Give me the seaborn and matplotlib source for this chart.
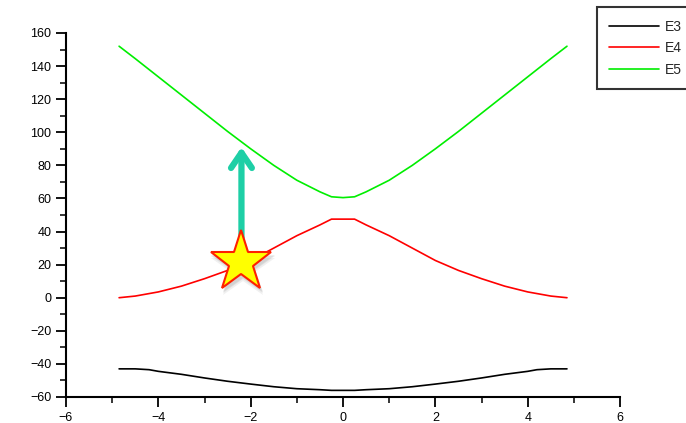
import numpy as np
import pandas as pd
import matplotlib
matplotlib.use("Agg")
import matplotlib.pyplot as plt
import seaborn as sns
from matplotlib.ticker import MultipleLocator

# values
x_vals = [-4.85, -4.5, -4.2, -4.0, -3.5, -3.0, -2.5, -2.0, -1.5, -1.0, -0.5, -0.25, 0.0,
          0.25, 0.5, 1.0, 1.5, 2.0, 2.5, 3.0, 3.5, 4.0, 4.2, 4.5, 4.85]
e3_vals = [-43.0, -43.0, -43.5, -44.5, -46.3, -48.5, -50.5, -52.2, -53.8, -55.0, -55.6, -56.0, -56.0,
           -56.0, -55.6, -55.0, -53.8, -52.2, -50.5, -48.5, -46.3, -44.5, -43.5, -43.0, -43.0]
e4_vals = [0.0, 1.0, 2.5, 3.5, 7.0, 11.5, 16.5, 22.5, 30.0, 37.5, 44.0, 47.5, 47.5,
           47.5, 44.0, 37.5, 30.0, 22.5, 16.5, 11.5, 7.0, 3.5, 2.5, 1.0, 0.0]
e5_vals = [152.0, 144.5, 137.9, 133.5, 122.5, 111.5, 100.5, 90.0, 80.0, 71.0, 64.0, 61.0, 60.5,
           61.0, 64.0, 71.0, 80.0, 90.0, 100.5, 111.5, 122.5, 133.5, 137.9, 144.5, 152.0]

series_names = ["E3", "E4", "E5"]
series_colors = ["black", "#ff0000", "#00ee00"]

# star marker and arrow (transition)
star_x, star_y = -2.2, 21.5
arrow_top = 91.0
arrow_bottom = 36.0

df = pd.DataFrame({"x": x_vals * 3,
                   "y": e3_vals + e4_vals + e5_vals,
                   "series": ["E3"] * len(x_vals) + ["E4"] * len(x_vals) + ["E5"] * len(x_vals)})

sns.set_style("ticks")
plt.rcParams['font.family'] = ['Liberation Sans', 'DejaVu Sans']

fig = plt.figure(figsize=(6.86, 4.23), dpi=100)
ax = fig.add_axes([0.0962, 0.0615, 0.8077, 0.8605])

sns.lineplot(data=df, x="x", y="y", hue="series", hue_order=series_names,
             palette=series_colors, linewidth=1.2, ax=ax, sort=False, estimator=None)

ax.annotate("", xy=(star_x, arrow_top), xytext=(star_x, arrow_bottom),
            arrowprops=dict(arrowstyle="->,head_width=0.75,head_length=1.1",
                            mutation_scale=10, color="#1ecfa6", lw=4.5,
                            shrinkA=0, shrinkB=0, capstyle="round", joinstyle="round"))
# soft shadow under the star
for dy, a in [(-3.5, 0.12), (-2.5, 0.15), (-1.5, 0.15)]:
    ax.plot([star_x + 0.03], [star_y + dy], marker="*", markersize=48, color="#888888",
            alpha=a, markeredgewidth=0, zorder=4)
ax.plot([star_x], [star_y], marker="*", markersize=46, markerfacecolor="#ffff00",
        markeredgecolor="#ff2000", markeredgewidth=1.5, zorder=5)

ax.set_xlim(-6, 6)
ax.set_ylim(-60, 160)
ax.xaxis.set_major_locator(MultipleLocator(2))
ax.xaxis.set_minor_locator(MultipleLocator(1))
ax.yaxis.set_major_locator(MultipleLocator(20))
ax.yaxis.set_minor_locator(MultipleLocator(10))
ax.tick_params(which="major", length=7, width=1.3, labelsize=9, colors="black", direction="out")
ax.tick_params(which="minor", length=4, width=1.3, direction="out")
ax.set_xlabel("")
ax.set_ylabel("")
sns.despine(ax=ax)
for s in ["left", "bottom"]:
    ax.spines[s].set_linewidth(1.5)
    ax.spines[s].set_color("black")

leg = ax.legend(loc="upper left", bbox_to_anchor=(0.870, 0.983), bbox_transform=fig.transFigure,
                frameon=True, fancybox=False, fontsize=10, handlelength=3.6,
                handletextpad=0.4, borderpad=0.9, labelspacing=0.55, borderaxespad=0)
leg.get_frame().set_edgecolor("black")
leg.get_frame().set_linewidth(1.5)
for line in leg.get_lines():
    line.set_linewidth(1.2)

fig.savefig("out.png", dpi=100)
